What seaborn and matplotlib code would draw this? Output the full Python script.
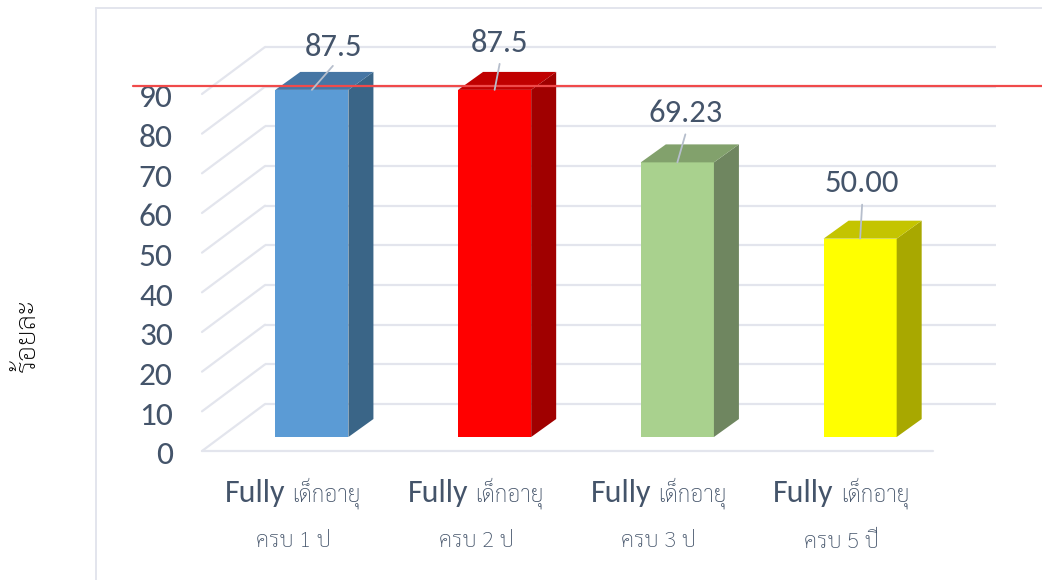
import matplotlib
matplotlib.use("Agg")
import matplotlib.pyplot as plt
from matplotlib.lines import Line2D
from matplotlib.transforms import Affine2D
import pandas as pd
import seaborn as sns

categories = ["เด็กอายุ 1", "เด็กอายุ 2", "เด็กอายุ 3", "เด็กอายุ 5"]
values = [87.5, 87.5, 69.23, 50.00]
value_labels = ["87.5", "87.5", "69.23", "50.00"]
label_first = ["Fully", "Fully", "Fully", "Fully"]
label_age = ["เด็กอายุ", "เด็กอายุ", "เด็กอายุ", "เด็กอายุ"]
label_second = ["ครบ 1 ป", "ครบ 2 ป", "ครบ 3 ป", "ครบ 5 ปี"]
y_ticks = [0, 10, 20, 30, 40, 50, 60, 70, 80, 90]
y_title = "ร้อยละ"
target = 88.5

front_colors = ["#5B9BD5", "#FF0000", "#A9D18E", "#FFFF00"]
side_colors = ["#3A6587", "#A00000", "#6F8660", "#A8A800"]
top_colors = ["#4676A4", "#C00000", "#82A16C", "#C4C400"]

W, H = 1042, 580
INK = "#44546A"
GRID = "#E3E5ED"

sns.set_theme(style="white")
plt.rcParams["font.family"] = ["Carlito", "Sarabun", "Noto Sans Thai", "DejaVu Sans"]
THAI = ["Sarabun", "Noto Sans Thai", "DejaVu Sans"]

fig = plt.figure(figsize=(W / 100, H / 100), dpi=100)
ax = fig.add_axes([202 / W, 1 - 451 / H, (996 - 202) / W, (451 - 47) / H])

df = pd.DataFrame({"group": categories, "value": values})
sns.barplot(data=df, x="group", y="value", hue="group", palette=front_colors,
            legend=False, width=0.4, saturation=1, ax=ax, zorder=3, err_kws={"linewidth": 0})

# Oblique projection: how far the floor reaches in front of and behind the bar plane
FRONT_X, FRONT_Y = -0.1012, -3.53
BACK_X, BACK_Y = 0.2435, 8.31
DEPTH_X, DEPTH_Y = 0.1368, 4.53

ax.set_xlim(-0.5 + FRONT_X, 3.5 + BACK_X)
ax.set_ylim(FRONT_Y, 90 + BACK_Y)
for s in ax.spines.values():
    s.set_visible(False)

# Back wall and side wall gridlines, then the front edge of the floor
x_left, x_right = -0.5, 3.5
for v in y_ticks:
    ax.plot([x_left + BACK_X, x_right + BACK_X], [v + BACK_Y, v + BACK_Y],
            color=GRID, lw=1.6, zorder=1, clip_on=False, solid_capstyle="butt")
    ax.plot([x_left + FRONT_X, x_left + BACK_X], [v + FRONT_Y, v + BACK_Y],
            color=GRID, lw=1.6, zorder=1, clip_on=False)
ax.plot([x_left + FRONT_X, x_right + FRONT_X], [FRONT_Y, FRONT_Y],
        color=GRID, lw=1.6, zorder=1, clip_on=False)

# Side and top faces of each bar, taken from the front face seaborn drew
for i, bar in enumerate(ax.patches):
    x0, x1 = bar.get_x(), bar.get_x() + bar.get_width()
    top = bar.get_height()
    bar.set_edgecolor("none")
    ax.fill([x1, x1 + DEPTH_X, x1 + DEPTH_X, x1], [0, DEPTH_Y, top + DEPTH_Y, top],
            color=side_colors[i], lw=0, zorder=3)
    ax.fill([x0, x0 + DEPTH_X, x1 + DEPTH_X, x1], [top, top + DEPTH_Y, top + DEPTH_Y, top],
            color=top_colors[i], lw=0, zorder=3)

# Value labels with their leader lines
label_offsets = [(22, 43), (5, 47), (8, 49), (2, 56)]
line_offsets = [(21, 24), (5, 26), (8, 28), (2, 34)]
for i, v in enumerate(values):
    ax.annotate("", xy=(i, v), xytext=line_offsets[i], textcoords="offset pixels",
                arrowprops=dict(arrowstyle="-", color="#B6BECC", lw=1.3, shrinkA=0, shrinkB=0),
                zorder=5, annotation_clip=False)
    ax.annotate(value_labels[i], xy=(i, v), xytext=label_offsets[i], textcoords="offset pixels",
                ha="center", va="center", fontsize=23.5, color=INK, zorder=6, annotation_clip=False)

# Target line across the whole plot
ax.plot([(133 - 202) / (996 - 202), 1.06], [target, target], color="#F04A4A", lw=1.6,
        transform=ax.get_yaxis_transform(), clip_on=False, zorder=4)

# Value axis labels sit on the front corner of the floor
ax.set_yticks([v + FRONT_Y for v in y_ticks], [str(v) for v in y_ticks])
ax.tick_params(axis="y", length=0, pad=21, labelsize=24, labelcolor=INK)
for tick_label in ax.get_yticklabels():
    tick_label.set_transform(tick_label.get_transform() + Affine2D().translate(0, -2))
ax.set_xticks([])
ax.set_xlabel("")
ax.set_ylabel("")

# Two-line category labels, with the Latin and Thai parts in different sizes
for i in range(len(categories)):
    xf = i + FRONT_X
    ax.annotate(label_first[i], xy=(xf, 0), xytext=(-8, -56), textcoords="offset pixels",
                ha="right", va="center", fontsize=23, color=INK, annotation_clip=False)
    ax.annotate(label_age[i], xy=(xf, 0), xytext=(-1, -56), textcoords="offset pixels",
                ha="left", va="center", fontsize=16.5, color=INK, family=THAI,
                fontweight="light", annotation_clip=False)
    ax.annotate(label_second[i], xy=(xf, 0), xytext=(0, -105), textcoords="offset pixels",
                ha="center", va="center", fontsize=16, color=INK, family=THAI,
                fontweight="light", annotation_clip=False)

fig.text(27 / W, 1 - 335 / H, y_title, rotation=90, ha="center", va="center",
         fontsize=20, color="black", family=THAI, fontweight="light")

# Chart area border: left and top edges only
fig.add_artist(Line2D([96 / W, 96 / W], [0, 1 - 8 / H], color=GRID, lw=1.4))
fig.add_artist(Line2D([96 / W, 1], [1 - 8 / H, 1 - 8 / H], color=GRID, lw=1.4))

fig.savefig("out.png", dpi=100)
